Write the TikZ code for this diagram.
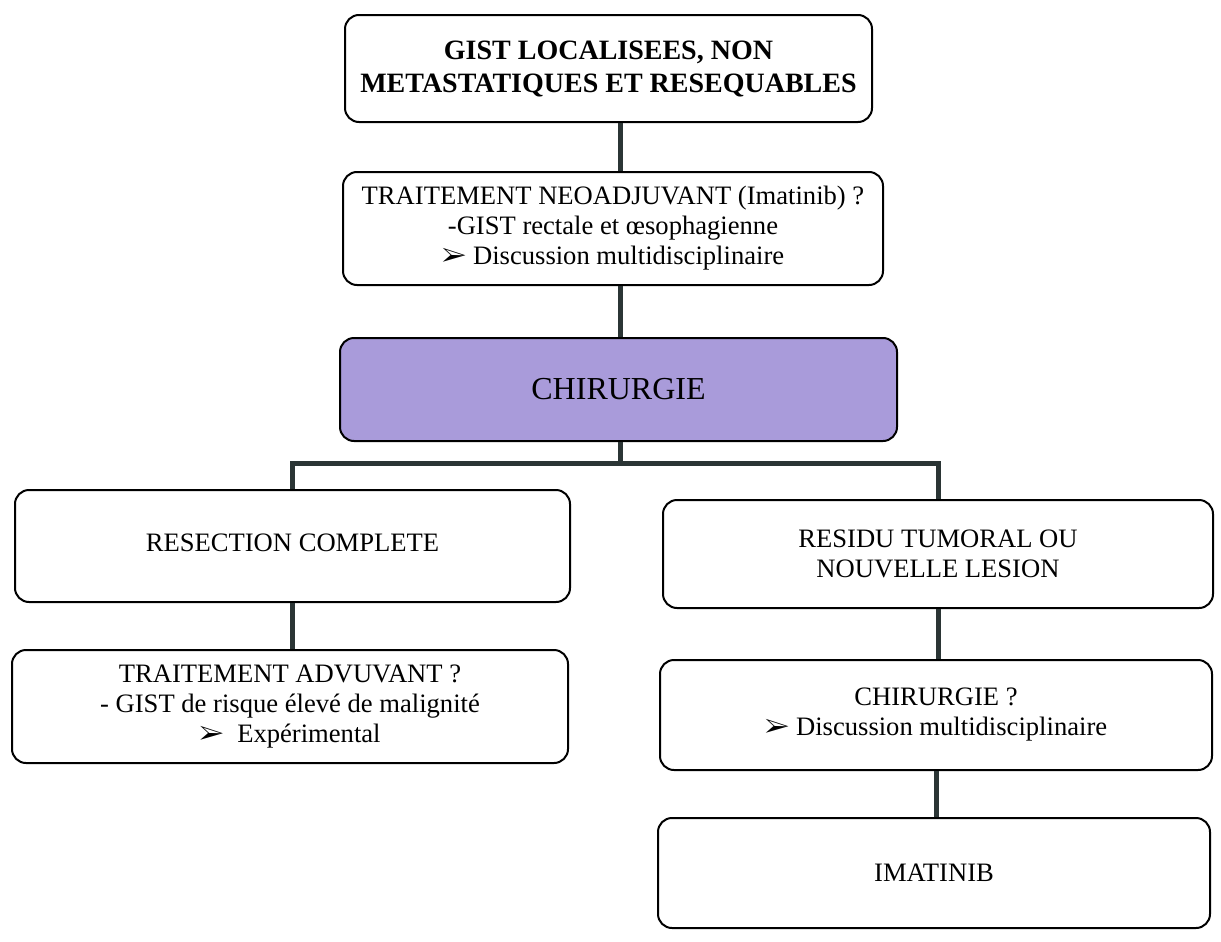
\documentclass[tikz,border=0pt]{standalone}
\usepackage{fontspec}
\setmainfont{Liberation Serif}
\usepackage{pifont}
\usepackage{tikz}
\usetikzlibrary{positioning}

\definecolor{lavande}{HTML}{A99BDA}
\definecolor{trait}{HTML}{2B3535}
\newcommand{\fleche}{\ding{226}}

\tikzset{
  boite/.style={draw=black, line width=1pt, rounded corners=7pt, align=center,
    font=\fontsize{13.3}{15}\selectfont, inner sep=2pt},
  lien/.style={draw=trait, line width=2.5pt}
}

\begin{document}
\begin{tikzpicture}[x=0.5pt, y=-0.5pt]
      \useasboundingbox (0, 0) rectangle (1221, 942);
      \node[boite, minimum width=263.5pt, minimum height=53.5pt, font=\fontsize{14}{16.5}\selectfont\bfseries] (gist) at (608.5, 68.5)
        {GIST LOCALISEES, NON\\METASTATIQUES ET RESEQUABLES};
      \node[boite, minimum width=270pt, minimum height=56.5pt] (neo) at (613, 228.5)
        {TRAITEMENT NEOADJUVANT (Imatinib) ?\\-GIST rectale et œsophagienne\\\fleche{} Discussion multidisciplinaire};
      \node[boite, fill=lavande, minimum width=278.5pt, minimum height=51.5pt, font=\fontsize{16}{19}\selectfont] (chir) at (618.5, 389.5)
        {CHIRURGIE};
      \node[boite, minimum width=277.5pt, minimum height=56pt] (resec) at (292.5, 546)
        {\raisebox{3pt}{RESECTION COMPLETE}};
      \node[boite, minimum width=275pt, minimum height=54pt] (resid) at (938, 554)
        {RESIDU TUMORAL OU\\NOUVELLE LESION};
      \node[boite, minimum width=278pt, minimum height=56.5pt] (adj) at (290, 706.5)
        {TRAITEMENT ADVUVANT ?\\- GIST de risque élevé de malignité\\\fleche{}\enspace Expérimental};
      \node[boite, minimum width=276pt, minimum height=55pt] (chir2) at (936, 715)
        {CHIRURGIE ?\\\fleche{} Discussion multidisciplinaire};
      \node[boite, minimum width=276pt, minimum height=55pt] (ima) at (934, 873)
        {IMATINIB};
      \coordinate (split) at (620, 463);
      \draw[lien] (gist.south -| split) -- (neo.north -| split);
      \draw[lien] (neo.south -| split) -- (chir.north -| split);
      \draw[lien] (chir.south -| split) -- (split);
      \draw[lien] (resec.north) |- (split) -| (resid.north);
      \draw[lien] (resec.south) -- (adj.north -| resec.south);
      \draw[lien] (resid.south) -- (chir2.north -| resid.south);
      \draw[lien] (chir2.south) -- (ima.north -| chir2.south);
    \end{tikzpicture}
\end{document}
